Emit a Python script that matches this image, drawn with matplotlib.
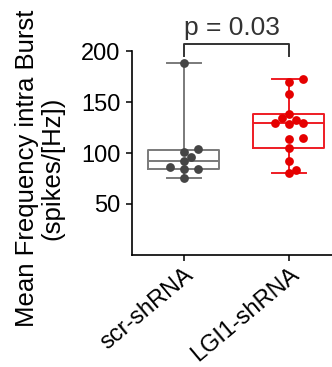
import numpy as np
import matplotlib
matplotlib.use("Agg")
import matplotlib.pyplot as plt

plt.rcParams['font.family'] = ['Liberation Sans', 'DejaVu Sans']

# values
groups = ["scr-shRNA", "LGI1-shRNA"]
scr = [189, 104, 101, 96, 92, 84, 84, 86, 75]
lgi1 = [170, 172.6, 158, 134, 138, 133, 130, 128.7, 129.6, 115, 114, 105, 91.7, 80, 83.6]
p_text = "p = 0.03"
yticks = [50, 100, 150, 200]

box_cols = ["#7a7a7a", "#ee1c24"]
dot_cols = ["#454545", "#e50000"]

fig = plt.figure(figsize=(3.32, 3.67), dpi=100)
ax = fig.add_axes([0.3976, 0.3065, 0.6024, 0.5532])


def swarm(vals, xscale=105.0, yscale=1.03, d=8.0):
    # simple beeswarm: put each point at the nearest free slot
    order = np.argsort(vals)
    placed = []
    offs = np.zeros(len(vals))
    for i in order:
        y = vals[i] * yscale
        for k in [0, 1, -1, 2, -2, 3, -3]:
            x = k * d * 0.9
            if all((x - px) ** 2 + (y - py) ** 2 >= d ** 2 for px, py in placed):
                break
        placed.append((x, y))
        offs[i] = x / xscale
    return offs


def box_stats(vals):
    # quartiles like Prism, (n+1)p
    q1, med, q3 = np.percentile(vals, [25, 50, 75], method="weibull")
    return dict(med=med, q1=q1, q3=q3, whislo=min(vals), whishi=max(vals), fliers=[])


for i, (vals, bc, dc) in enumerate(zip([scr, lgi1], box_cols, dot_cols)):
    lp = dict(color=bc, linewidth=1.4)
    ax.bxp([box_stats(vals)], positions=[i], widths=0.676, showfliers=False,
           boxprops=lp, medianprops=lp, whiskerprops=lp, capprops=lp,
           capwidths=0.33)
    v = np.array(vals)
    ax.scatter(i + swarm(v), v, s=40, color=dc, zorder=3, linewidths=0)

ax.set_xlim(-0.495, 1.41)
ax.set_ylim(0, 200)
ax.set_yticks(yticks)
ax.set_xticks([0, 1])
ax.set_xticklabels(groups, rotation=40, ha="right", rotation_mode="anchor")
ax.tick_params(axis="y", labelsize=17, length=4.5, width=1.1, pad=4)
ax.tick_params(axis="x", labelsize=17, length=4.5, width=1.1, pad=2)
for s in ["top", "right"]:
    ax.spines[s].set_visible(False)
for s in ["left", "bottom"]:
    ax.spines[s].set_linewidth(1.2)

# significance bracket
ax.plot([0, 0, 1, 1], [196, 207, 207, 196], color="#333333", lw=1.4, clip_on=False)
ax.text(0.46, 211, p_text, ha="center", va="bottom", fontsize=19, color="#333333")

fig.text(0.12, 0.542, "Mean Frequency intra Burst\n(spikes/[Hz])", rotation=90,
         ha="center", va="center", fontsize=18.5, linespacing=1.1,
         multialignment="center")

fig.savefig("out.png", dpi=100)
